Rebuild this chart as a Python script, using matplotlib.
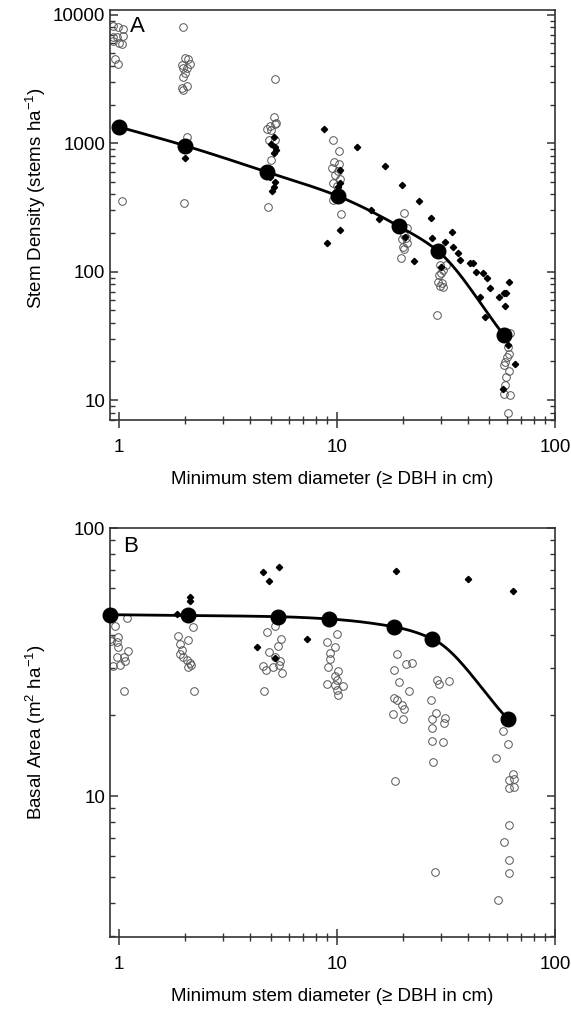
import numpy as np
import matplotlib
matplotlib.use('Agg')
import matplotlib.pyplot as plt
from matplotlib.ticker import FixedLocator, NullFormatter

plt.rcParams['font.family'] = ['Liberation Sans', 'DejaVu Sans']
plt.rcParams['mathtext.default'] = 'regular'

# ---- panel A: stem density ----
a_mean_x = [1.0, 2.0, 4.8, 10.1, 19.2, 29.0, 58.3]
a_mean_y = [1340, 960, 595, 388, 226, 145, 32]

a_open_x = [0.94, 0.99, 1.04, 0.94, 0.98, 1.04, 0.94, 1.0, 1.03, 0.96, 0.99, 1.03,
            1.97, 2.01, 2.07, 1.95, 2.05, 2.12, 1.97, 2.01, 1.97, 1.95, 2.05, 1.97, 2.05, 1.99,
            5.19, 5.13, 4.93, 5.19, 4.76, 5.0, 5.27, 4.9, 5.2, 5.0, 4.82,
            9.6, 10.25, 9.7, 10.25, 9.5, 10.1, 9.8, 10.3, 9.6, 10.0, 9.6, 10.4,
            20.2, 20.9, 20.2, 20.8, 19.8, 20.0, 20.9, 20.4, 19.6,
            29.6, 30.6, 29.4, 30.0, 29.0, 30.4, 30.8, 29.7, 31.5, 28.9,
            62.1, 60.7, 61.5, 60.5, 58.9, 58.6, 61.5, 59.9, 59.3, 58.6, 62.1, 61.0]
a_open_y = [8150, 7990, 7700, 6680, 6680, 6880, 6220, 6060, 5900, 4510, 4120, 354,
            7990, 4590, 4510, 4060, 3870, 4150, 3850, 3550, 3270, 2680, 2770, 2620, 1110, 340,
            3150, 1600, 1355, 1420, 1300, 1262, 1430, 1055, 1055, 738, 316,
            1055, 867, 716, 687, 636, 609, 563, 531, 486, 463, 360, 279,
            284, 217, 192, 183, 180, 156, 167, 149, 127,
            112, 103, 94, 98, 83.4, 81, 76, 78, 112, 45.8,
            33, 26, 22.8, 21.7, 19.9, 18.7, 16.9, 15, 13.1, 11.1, 10.9, 8.0]

a_fill_x = [2.01, 5.13, 5.0, 5.19, 5.27, 5.13, 4.93, 5.19, 5.13, 5.05,
            8.7, 10.3, 10.1, 10.3, 10.3, 9.0,
            12.3, 14.4, 15.6, 16.6, 19.9, 23.8, 27.0, 22.6, 27.3, 33.6, 31.3, 34.0,
            35.8, 36.6, 40.7, 42.0, 43.6, 46.8, 48.6, 50.4, 45.3, 48.0, 55.6, 58.5,
            59.5, 58.9, 61.5, 65.6, 60.7, 57.8, 20.5, 29.9]
a_fill_y = [764, 1120, 995, 935, 882, 840, 547, 500, 457, 424,
            1300, 617, 455, 490, 210, 166,
            935, 301, 259, 662, 477, 354, 264, 121, 183, 202, 171, 156,
            140, 124, 117, 117, 99.5, 96.8, 88.5, 74, 63, 44, 63, 67.7,
            68, 53.8, 83.4, 19, 26.8, 12.1, 186, 108]

# ---- panel B: basal area ----
b_mean_x = [0.91, 2.08, 5.38, 9.2, 18.3, 27.4, 60.7]
b_mean_y = [47.5, 47.2, 46.7, 45.8, 42.8, 38.6, 19.4]

b_open_x = [1.09, 0.96, 0.91, 0.99, 0.98, 0.99, 1.10, 0.98, 1.06, 1.01, 0.94, 1.07, 1.05, 0.92,
            2.19, 1.87, 2.08, 1.90, 1.94, 1.90, 1.97, 2.05, 2.12, 2.15, 2.08, 2.20,
            5.19, 4.76, 5.52, 5.38, 4.9, 5.19, 5.5, 4.59, 4.72, 5.1, 5.45, 5.57, 4.65,
            10.0, 9.0, 9.8, 9.3, 9.3, 9.1, 10.1, 9.8, 10.0, 9.0, 10.7, 9.8, 10.0, 10.1,
            18.8, 20.8, 22.0, 18.3, 19.3, 21.4, 18.3, 18.9, 19.8, 20.3, 18.1, 20.1, 18.5,
            28.9, 29.5, 32.7, 27.0, 28.4, 27.4, 31.2, 30.9, 27.4, 27.4, 30.5, 27.6, 28.2,
            57.9, 61.2, 53.8, 64.1, 61.3, 64.7, 61.3, 64.7, 61.3, 58.3, 61.3, 61.3, 55.0]
b_open_y = [46, 43, 38.7, 39.3, 37.6, 36, 34.8, 33.1, 33.1, 30.8, 30.5, 32, 24.7, 37.9,
            42.9, 39.5, 38.2, 37, 35, 33.9, 33.1, 32.2, 31.5, 30.8, 30.3, 24.7,
            43, 41, 38.4, 36.3, 34.6, 33.1, 32.0, 30.5, 29.6, 30.4, 30.8, 28.7, 24.7,
            40.1, 37.6, 36, 34.3, 32.4, 30.3, 29.2, 28.0, 27.2, 26.3, 25.8, 26, 24.9, 23.8,
            33.8, 31.1, 31.4, 29.6, 26.7, 24.7, 23.3, 22.8, 21.8, 21.2, 20.2, 19.4, 11.4,
            27.2, 26.2, 26.9, 22.8, 20.5, 19.4, 19.6, 18.7, 18.0, 16.1, 15.9, 13.4, 5.2,
            17.5, 15.6, 13.9, 12.1, 11.5, 11.6, 10.7, 10.8, 7.8, 6.75, 5.77, 5.17, 4.1]

b_fill_x = [1.84, 2.11, 2.12, 4.59, 4.9, 5.45, 4.3, 5.19, 7.26, 18.6, 40.1, 64.0]
b_fill_y = [47.6, 55.1, 53.5, 68.7, 63.6, 71.8, 35.9, 32.7, 38.6, 69.3, 64.5, 58.2]

x_ticks = [1, 10, 100]
x_ticklabels = ['1', '10', '100']
a_yticks = [10, 100, 1000, 10000]
a_yticklabels = ['10', '100', '1000', '10000']
b_yticks = [10, 100]
b_yticklabels = ['10', '100']


def pchip(x, y, xn):
    # monotone cubic through the means (used for the smooth line)
    x = np.asarray(x, float)
    y = np.asarray(y, float)
    h = np.diff(x)
    d = np.diff(y) / h
    n = len(x)
    m = np.zeros(n)
    for k in range(1, n - 1):
        if d[k - 1] * d[k] > 0:
            w1 = 2 * h[k] + h[k - 1]
            w2 = h[k] + 2 * h[k - 1]
            m[k] = (w1 + w2) / (w1 / d[k - 1] + w2 / d[k])
    m[0] = d[0]
    m[-1] = d[-1]
    idx = np.clip(np.searchsorted(x, xn) - 1, 0, n - 2)
    t = (xn - x[idx]) / h[idx]
    h00 = 2 * t**3 - 3 * t**2 + 1
    h10 = t**3 - 2 * t**2 + t
    h01 = -2 * t**3 + 3 * t**2
    h11 = t**3 - t**2
    return h00 * y[idx] + h10 * h[idx] * m[idx] + h01 * y[idx + 1] + h11 * h[idx] * m[idx + 1]


def minors(lo, hi):
    out = []
    for e in range(lo, hi):
        for k in range(2, 10):
            out.append(k * 10.0**e)
    return out


def draw(ax, ox, oy, fx, fy, mx, my, yt, ytl, ylim, lo, hi, letter, ylabel, lx):
    ax.plot(ox, oy, 'o', ms=5.5, mfc='none', mec='#555555', mew=0.7, zorder=2)
    ax.plot(fx, fy, 'D', ms=3.2, color='black', zorder=3)
    lxs = np.log10(mx)
    xn = np.linspace(lxs[0], lxs[-1], 300)
    yn = pchip(lxs, np.log10(my), xn)
    ax.plot(10**xn, 10**yn, '-', color='black', lw=2.0, zorder=4)
    ax.plot(mx, my, 'o', ms=10.5, color='black', zorder=5, clip_on=False)

    ax.set_xscale('log')
    ax.set_yscale('log')
    ax.set_xlim(0.91, 100)
    ax.set_ylim(*ylim)
    ax.xaxis.set_major_locator(FixedLocator(x_ticks))
    ax.set_xticklabels(x_ticklabels)
    ax.xaxis.set_minor_locator(FixedLocator(minors(0, 2)))
    ax.xaxis.set_minor_formatter(NullFormatter())
    ax.yaxis.set_major_locator(FixedLocator(yt))
    ax.set_yticklabels(ytl)
    ax.yaxis.set_minor_locator(FixedLocator(minors(lo, hi)))
    ax.yaxis.set_minor_formatter(NullFormatter())

    ax.tick_params(axis='x', which='major', direction='inout', length=11, width=1.1,
                   labelsize=13.5, pad=8, color='#333333')
    ax.tick_params(axis='x', which='minor', direction='inout', length=6, width=1.0,
                   color='#333333')
    ax.tick_params(axis='y', which='major', direction='in', length=6, width=1.1,
                   labelsize=13.5, right=True, color='#333333')
    ax.tick_params(axis='y', which='minor', direction='in', length=3.5, width=1.0,
                   right=True, color='#333333')
    for s in ax.spines.values():
        s.set_linewidth(1.2)
        s.set_color('#333333')

    ax.text(lx[0], lx[1], letter, transform=ax.transAxes, fontsize=16, va='center', ha='left')
    ax.set_xlabel('Minimum stem diameter (≥ DBH in cm)', fontsize=13.5, labelpad=11)
    ax.set_ylabel(ylabel, fontsize=13.5)
    ax.yaxis.set_label_coords(-0.14, lx[2])


fig = plt.figure(figsize=(5.71, 10.11), dpi=100)
axA = fig.add_axes([0.1926, 0.5846, 0.7793, 0.4055])
axB = fig.add_axes([0.1926, 0.0732, 0.7793, 0.4045])

draw(axA, a_open_x, a_open_y, a_fill_x, a_fill_y, a_mean_x, a_mean_y,
     a_yticks, a_yticklabels, (7, 10900), 0, 4, 'A',
     'Stem Density (stems ha$^{-1}$)', (0.045, 0.96, 0.54))
draw(axB, b_open_x, b_open_y, b_fill_x, b_fill_y, b_mean_x, b_mean_y,
     b_yticks, b_yticklabels, (2.98, 100), 0, 2, 'B',
     'Basal Area (m$^{2}$ ha$^{-1}$)', (0.03, 0.956, 0.5))

fig.savefig('out.png', dpi=100)
